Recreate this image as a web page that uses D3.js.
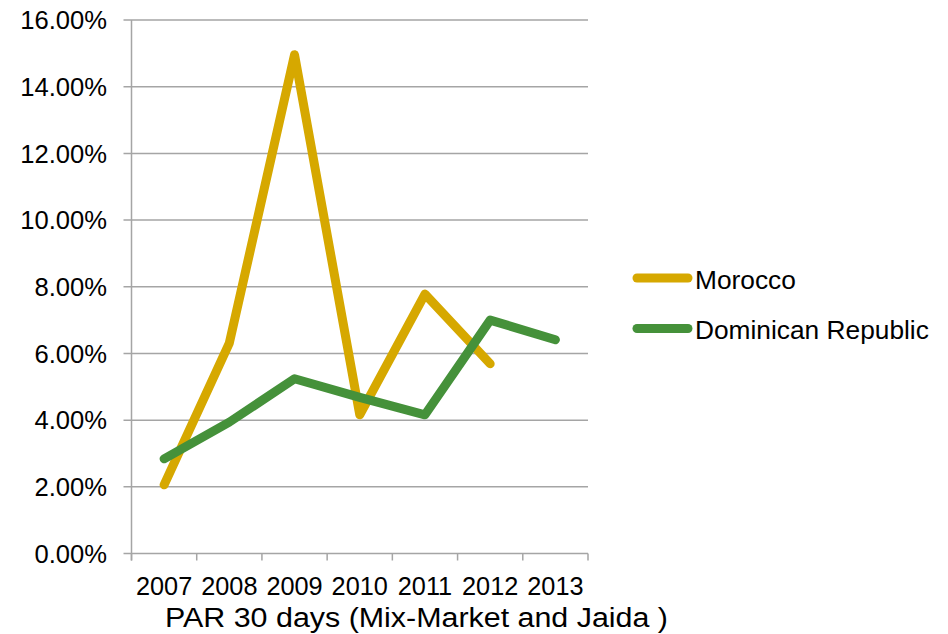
<!DOCTYPE html>
<html>
<head>
<meta charset="utf-8">
<script src="https://cdn.jsdelivr.net/npm/d3@7/dist/d3.min.js"></script>
<style>
  html, body { margin: 0; padding: 0; background: #fff; }
  svg { display: block; font-family: "Liberation Sans", Arial, sans-serif; }
</style>
</head>
<body>
<svg id="chart" width="948" height="634"></svg>
<script>
// PAR 30 days by year (fraction of portfolio)
const years = ["2007", "2008", "2009", "2010", "2011", "2012", "2013"];
const morocco = [0.0206, 0.0631, 0.1496, 0.0416, 0.0778, 0.0569, null];
const dominican = [0.0284, 0.0394, 0.0524, 0.0468, 0.0416, 0.0700, 0.0641];
const seriesNames = ["Morocco", "Dominican Republic"];
const seriesColors = ["#D6A800", "#45913A"];
const yTicks = [0, 0.02, 0.04, 0.06, 0.08, 0.10, 0.12, 0.14, 0.16];
const chartTitle = "PAR 30 days (Mix-Market and Jaida )";

const svg = d3.select("#chart");
const plotLeft = 131.5, plotRight = 588, plotTop = 20, plotBottom = 553.5;

const x = d3.scalePoint().domain(years).range([plotLeft, plotRight]).padding(0.5);
const y = d3.scaleLinear().domain([0, 0.16]).range([plotBottom, plotTop]);
const step = x.step();

const gridColor = "#A5A5A5";

// horizontal gridlines with left ticks
svg.append("g")
  .selectAll("line")
  .data(yTicks)
  .join("line")
  .attr("x1", plotLeft - 8).attr("x2", plotRight)
  .attr("y1", d => y(d)).attr("y2", d => y(d))
  .attr("stroke", gridColor).attr("stroke-width", 1.5);

// y axis line
svg.append("line")
  .attr("x1", plotLeft).attr("x2", plotLeft)
  .attr("y1", plotTop).attr("y2", plotBottom + 7)
  .attr("stroke", gridColor).attr("stroke-width", 1.5);

// y tick labels
svg.append("g")
  .selectAll("text")
  .data(yTicks)
  .join("text")
  .attr("x", 107).attr("y", d => y(d))
  .attr("dy", "0.36em")
  .attr("text-anchor", "end")
  .attr("font-size", 25.6)
  .attr("fill", "#000")
  .text(d => d3.format(".2%")(d));

// x axis ticks at category boundaries
const bounds = d3.range(years.length + 1).map(i => plotLeft + i * step);
svg.append("g")
  .selectAll("line")
  .data(bounds)
  .join("line")
  .attr("x1", d => d).attr("x2", d => d)
  .attr("y1", plotBottom).attr("y2", plotBottom + 7)
  .attr("stroke", gridColor).attr("stroke-width", 1.5);

// x tick labels
svg.append("g")
  .selectAll("text")
  .data(years)
  .join("text")
  .attr("x", d => x(d)).attr("y", 595)
  .attr("text-anchor", "middle")
  .attr("font-size", 25.3)
  .attr("fill", "#000")
  .text(d => d);

// title under the axis
svg.append("text")
  .attr("x", 165).attr("y", 626.5)
  .attr("font-size", 27)
  .attr("textLength", 503)
  .attr("lengthAdjust", "spacingAndGlyphs")
  .attr("fill", "#000")
  .text(chartTitle);

// series lines
const line = d3.line()
  .defined(d => d.v != null)
  .x(d => x(d.year))
  .y(d => y(d.v));

[morocco, dominican].forEach((vals, i) => {
  const pts = years.map((yr, j) => ({ year: yr, v: vals[j] }));
  svg.append("path")
    .datum(pts)
    .attr("d", line)
    .attr("fill", "none")
    .attr("stroke", seriesColors[i])
    .attr("stroke-width", 9)
    .attr("stroke-linecap", "round")
    .attr("stroke-linejoin", "round");
});

// legend
const legend = svg.append("g");
seriesNames.forEach((name, i) => {
  const ly = 278 + i * 50.5;
  legend.append("line")
    .attr("x1", 637).attr("x2", 688)
    .attr("y1", ly).attr("y2", ly)
    .attr("stroke", seriesColors[i])
    .attr("stroke-width", 9)
    .attr("stroke-linecap", "round");
  legend.append("text")
    .attr("x", 695).attr("y", ly + 10.5)
    .attr("font-size", 26.3)
    .attr("fill", "#000")
    .text(name);
});
</script>
</body>
</html>
